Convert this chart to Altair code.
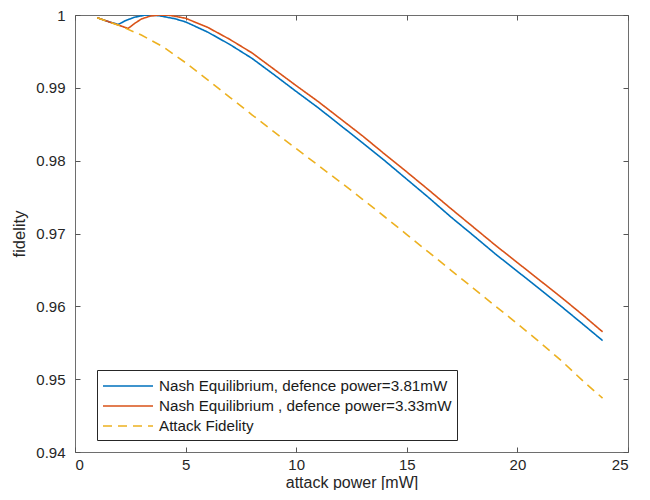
import altair as alt
import pandas as pd

# ---- data ----
x_blue = [1.0, 1.5, 1.95, 2.3, 2.7, 3.2, 3.8, 4.5, 5, 6, 7, 8, 9, 10, 11, 12, 13, 14, 15,
          16, 17, 18, 19, 20, 21, 22, 23, 23.85]
y_blue = [0.99963, 0.99910, 0.99870, 0.99925, 0.99970, 1.0, 0.99990, 0.99950,
          0.99905, 0.99765, 0.99595, 0.99405, 0.99180, 0.98950, 0.98725, 0.98485, 0.98245,
          0.98000, 0.97745, 0.97490, 0.97225, 0.96975, 0.96720, 0.96480, 0.96240, 0.95995,
          0.95745, 0.95530]

x_orange = [1.0, 1.5, 2.0, 2.4, 2.7, 3.0, 3.4, 3.8, 4.3, 5, 6, 7, 8, 9, 10, 11, 12, 13, 14,
            15, 16, 17, 18, 19, 20, 21, 22, 23, 23.85]
y_orange = [0.99963, 0.99910, 0.99858, 0.99815, 0.99885, 0.99945, 0.99985, 1.0, 0.99995,
            0.99955, 0.99830, 0.99665, 0.99480, 0.99255, 0.99030, 0.98810, 0.98575, 0.98340,
            0.98090, 0.97845, 0.97595, 0.97340, 0.97090, 0.96840, 0.96600, 0.96360, 0.96120,
            0.95870, 0.95650]

x_yellow = [1, 2, 3, 4, 5, 6, 7, 8, 9, 10, 11, 12, 13, 14, 15, 16, 17, 18, 19, 20, 21, 22,
            23, 23.85]
y_yellow = [0.99963, 0.99855, 0.99725, 0.99560, 0.99345, 0.99110, 0.98870, 0.98630, 0.98395,
            0.98165, 0.97935, 0.97705, 0.97470, 0.97230, 0.96985, 0.96740, 0.96495, 0.96250,
            0.96005, 0.95760, 0.95510, 0.95250, 0.94965, 0.94740]

series = ["Nash Equilibrium, defence power=3.81mW",
          "Nash Equilibrium , defence power=3.33mW",
          "Attack Fidelity"]
colors = ["#0072BD", "#D95319", "#EDB120"]
dashes = [[1, 0], [1, 0], [9, 6]]

x_ticks = [0, 5, 10, 15, 20, 25]
y_ticks = [0.94, 0.95, 0.96, 0.97, 0.98, 0.99, 1.0]

rows = []
for name, xs, ys in zip(series, [x_blue, x_orange, x_yellow], [y_blue, y_orange, y_yellow]):
    for xv, yv in zip(xs, ys):
        rows.append({"x": xv, "y": yv, "series": name})
df = pd.DataFrame(rows)

FONT = "Liberation Sans"
AX = "#262626"
TICK = "#555555"

x_scale = alt.Scale(domain=[0, 25], nice=False, zero=False)
y_scale = alt.Scale(domain=[0.94, 1.0], nice=False, zero=False)

legend = alt.Legend(
    title=None, orient="none", legendX=22, legendY=355,
    symbolType="M-1,0H4", symbolSize=400, symbolStrokeWidth=1.5,
    labelOffset=35, padding=5, rowPadding=0,
    strokeColor="#262626", fillColor="white",
    labelFont=FONT, labelFontSize=15.2, labelColor="#1a1a1a", labelLimit=0,
)

lines = alt.Chart(df).mark_line(strokeWidth=1.6, clip=True).encode(
    x=alt.X("x:Q", scale=x_scale, axis=alt.Axis(
        orient="bottom", values=x_ticks, format="d", offset=-5, domain=False,
        ticks=True, tickSize=5, tickColor=TICK, grid=False,
        labelPadding=5, labelFont=FONT, labelFontSize=15, labelColor=AX,
        title="attack power [mW]", titleFont=FONT, titleFontSize=16,
        titleFontWeight="normal", titleColor=AX, titlePadding=2)),
    y=alt.Y("y:Q", scale=y_scale, axis=alt.Axis(
        orient="left", values=y_ticks, format=".2~f", offset=-5, domain=False,
        ticks=True, tickSize=5, tickColor=TICK, grid=False,
        labelPadding=10, labelFont=FONT, labelFontSize=15, labelColor=AX,
        title="fidelity", titleFont=FONT, titleFontSize=16.5,
        titleFontWeight="normal", titleColor=AX, titlePadding=8)),
    color=alt.Color("series:N", scale=alt.Scale(domain=series, range=colors), legend=legend),
    strokeDash=alt.StrokeDash("series:N", scale=alt.Scale(domain=series, range=dashes), legend=legend),
)

frame = alt.Chart(df).mark_line(opacity=0).encode(
    x=alt.X("x:Q", scale=x_scale, axis=alt.Axis(
        orient="top", values=x_ticks, offset=-5, domain=False, labels=False,
        ticks=True, tickSize=5, tickColor=TICK, grid=False, title=None)),
    y=alt.Y("y:Q", scale=y_scale, axis=alt.Axis(
        orient="right", values=y_ticks, offset=-5, domain=False, labels=False,
        ticks=True, tickSize=5, tickColor=TICK, grid=False, title=None)),
    detail="series:N",
)

chart = alt.layer(lines, frame).resolve_axis(
    x="independent", y="independent"
).properties(
    width=553, height=437,
    autosize=alt.AutoSizeParams(type="none"),
    padding={"left": 67, "top": 7, "right": 12, "bottom": 38},
).configure_view(stroke="#6e6e6e", strokeWidth=1)

chart.save("out.html", embed_options={"renderer": "svg", "actions": False})
